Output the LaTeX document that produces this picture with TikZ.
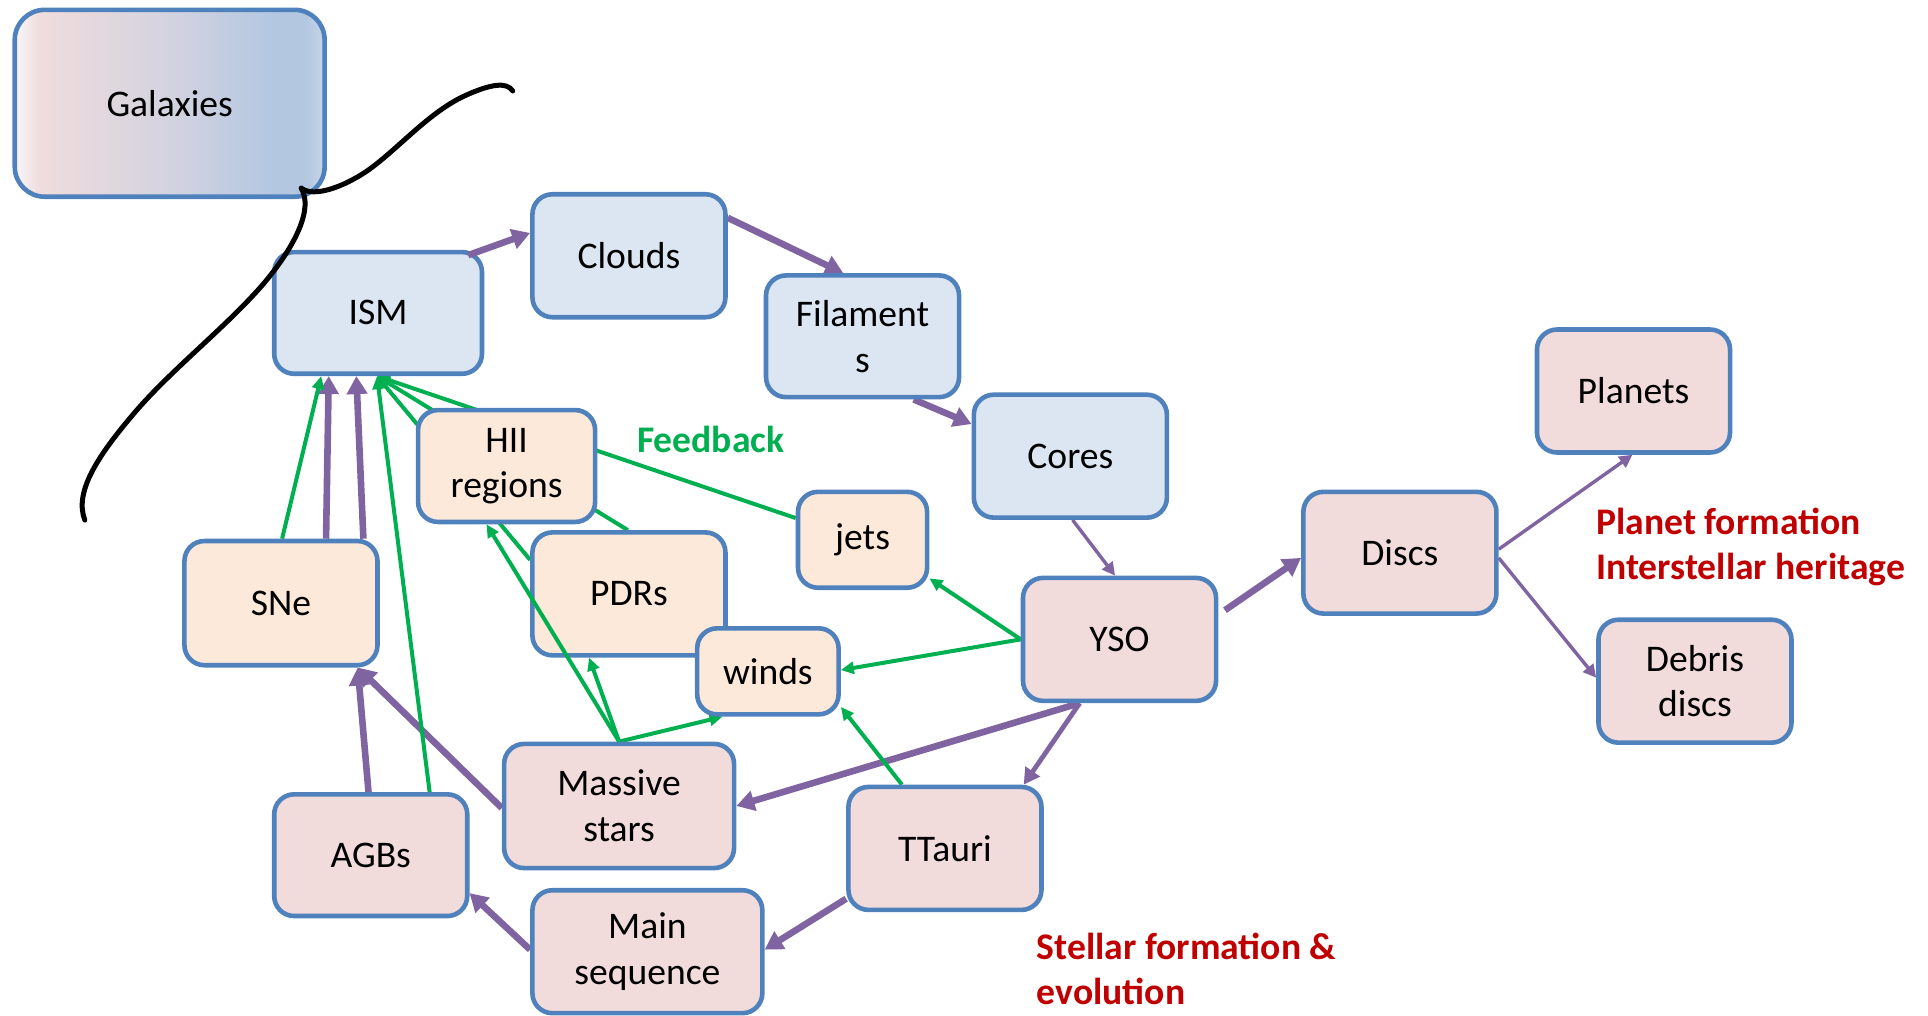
\documentclass[tikz,border=0pt]{standalone}
\usepackage{fontspec}
\setmainfont{Carlito}
\usetikzlibrary{arrows.meta}
\definecolor{bdr}{HTML}{4F81BD}
\definecolor{fblue}{HTML}{DCE6F2}
\definecolor{fpeach}{HTML}{FDE9D9}
\definecolor{fpink}{HTML}{F2DCDB}
\definecolor{purp}{HTML}{8064A2}
\definecolor{grn}{HTML}{00B050}
\definecolor{dred}{HTML}{C00000}
\definecolor{galA}{HTML}{F7F7FA}
\definecolor{galB}{HTML}{F0DCDC}
\definecolor{galM}{HTML}{D3D3E0}
\definecolor{galC}{HTML}{B3C7E1}
\definecolor{galD}{HTML}{C5D6EA}
\pgfdeclarehorizontalshading{galshade}{100bp}{color(0bp)=(galA); color(25bp)=(galA); color(29bp)=(galB); color(50bp)=(galM); color(67bp)=(galC); color(72bp)=(galC); color(75bp)=(galD); color(100bp)=(galD)}
\pgfdeclarelayer{bg}
\pgfsetlayers{bg,main}
\begin{document}
\begin{tikzpicture}[x=0.6148pt,y=-0.6148pt,
  box/.style={draw=bdr, line width=2.3pt, rounded corners=10pt, inner sep=0pt, align=center,
    font=\fontsize{18.8}{22.8}\selectfont, text=black},
  bl/.style={box, fill=fblue},
  pc/.style={box, fill=fpeach},
  pk/.style={box, fill=fpink},
  sz/.style 2 args={minimum width=#1*0.6148pt, minimum height=#2*0.6148pt},
  pth/.style={draw=purp, line width=3.3pt, -{Triangle[length=9pt,width=10pt]}},
  pmd/.style={draw=purp, line width=2.4pt, -{Triangle[length=8pt,width=8.5pt]}},
  ptn/.style={draw=purp, line width=1.7pt, -{Triangle[length=6.5pt,width=6.5pt]}},
  gr/.style={draw=grn, line width=2pt, -{Triangle[length=6.5pt,width=6pt]}},
  lbl/.style={font=\bfseries\fontsize{18.8}{22.8}\selectfont, inner sep=0pt}
]
\useasboundingbox (0,0) rectangle (1568,826);

% nodes
\node[box, shade, shading=galshade, sz={252}{152}, rounded corners=15pt] (gal) at (138,84) {Galaxies};
\node[bl, sz={169}{99}] (ISM) at (307.5,254.5) {ISM};
\node[bl, sz={157}{100}] (clouds) at (511.5,208) {Clouds};
\node[bl, sz={157}{99}] (fil) at (701.5,273.5) {Filament\\s};
\node[bl, sz={157}{100}] (cores) at (870.5,371) {Cores};
\node[pc, sz={144}{91}] (hii) at (412,379) {HII\\regions};
\node[pc, sz={157}{100}] (pdr) at (511.5,483) {PDRs};
\node[pc, sz={105}{78}] (jets) at (701.5,439) {jets};
\node[pc, sz={115}{70}] (winds) at (624.5,546) {winds};
\node[pc, sz={157}{101}] (sne) at (228.5,490.5) {SNe};
\node[pk, sz={157}{100}] (yso) at (910.5,520) {YSO};
\node[pk, sz={157}{99}] (discs) at (1138.5,449.5) {Discs};
\node[pk, sz={157}{100}] (planets) at (1328.5,318) {Planets};
\node[pk, sz={157}{100}] (debris) at (1378.5,554) {Debris\\discs};
\node[pk, sz={187}{101}] (massive) at (503.5,655.5) {Massive\\stars};
\node[pk, sz={157}{99}] (agb) at (301.5,695.5) {AGBs};
\node[pk, sz={157}{100}] (tt) at (768.5,690) {TTauri};
\node[pk, sz={187}{100}] (ms) at (526.5,774) {Main\\sequence};

% labels
\node[lbl, text=grn] (fb) at (578,357) {Feedback};
\node[lbl, text=dred, align=left, anchor=west] (pf) at (1298,445) {Planet formation\\Interstellar heritage};
\node[lbl, text=dred, align=left, anchor=west] (sf) at (843,788) {Stellar formation \&\\evolution};

\begin{pgfonlayer}{bg}
% purple
\draw[pth] (clouds.21) -- (fil.107);
\draw[pth] (fil.-51) -- (cores.162);
\draw[ptn] (cores.-88) -- (yso.94);
\draw[pth, shorten <=4pt] (yso.14) -- (discs.183);
\draw[ptn] (discs.2) -- (planets.-91);
\draw[ptn] (discs.-3) -- (debris.178);
\draw[pth] (yso.238) -- (massive.0);
\draw[pmd] (yso.238) -- (tt.39);
\draw[pth] (tt.207) -- (ms.1);
\draw[pth] (ms.179) -- (agb.-21);
\draw[pth] (agb.92) -- (sne.-40);
\draw[pth] (massive.181) -- (sne.-40);
\draw[pth] (sne.55) -- (ISM.232);
\draw[pth] (sne.38.5) -- (ISM.251);
% green
\draw[gr] (sne.89) -- (ISM.228);
\draw[gr] (agb.47) -- (ISM.-91);
\draw[gr] (pdr.91) -- (ISM.-91);
\draw[gr] (pdr.161) -- (ISM.-91);
\draw[gr] (jets.162) -- (ISM.-91);
\draw[gr] (massive.90) -- (pdr.238);
\draw[gr] (massive.90) -- (winds.225);
\draw[gr] (yso.180) -- (jets.-30);
\draw[gr] (yso.180) -- (winds.1);
\draw[gr] (tt.124) -- (winds.-26);
\end{pgfonlayer}

\draw[pth, shorten <=-8pt] (ISM.31) -- (clouds.167);
\draw[gr] (massive.90) -- (hii.251);

% black brace-like curve
\draw[black, line width=2.5pt, line cap=round]
  (245,153) .. controls (255,161) and (280,152) .. (300,138)
  .. controls (325,120) and (350,90) .. (380,77)
  .. controls (398,69) and (412,66) .. (417,74);
\draw[black, line width=2.5pt, line cap=round]
  (245,153) .. controls (255,170) and (240,200) .. (215,230)
  .. controls (185,265) and (140,300) .. (110,335)
  .. controls (80,370) and (60,400) .. (69,423);
\end{tikzpicture}
\end{document}
